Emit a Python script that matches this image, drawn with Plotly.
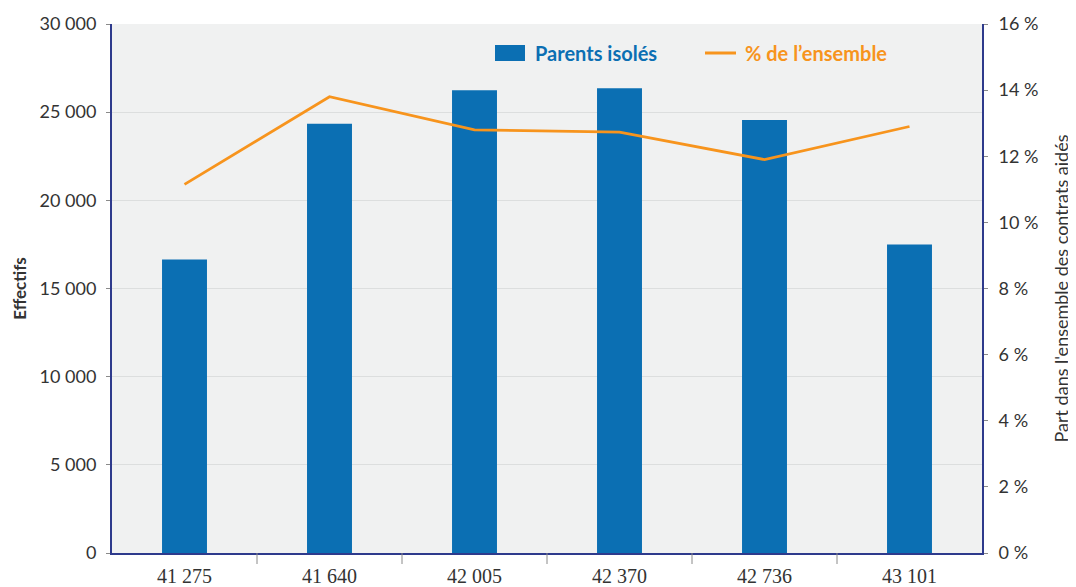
import plotly.graph_objects as go

categories = ["41 275", "41 640", "42 005", "42 370", "42 736", "43 101"]
parents_isoles = [16650, 24350, 26250, 26350, 24550, 17500]
pct_ensemble = [11.15, 13.8, 12.8, 12.73, 11.9, 12.9]

BLUE = "#0b6fb3"
ORANGE = "#f7941d"
NAVY = "#2e3a8c"
FONT = "Lato"
TXT = "#333333"

# page body has an 8px default margin: figure is sized to fit the window
W, H = 1068, 579
ML, MR, MT, MB = 104, 94, 16, 34
PW = W - ML - MR
PH = H - MT - MB


def px(xw):  # window x -> paper fraction
    return (xw - 8 - ML) / PW


def py(yw):  # window y -> paper fraction
    return (H - MB - (yw - 8)) / PH


n = len(categories)

fig = go.Figure()
fig.add_trace(go.Bar(
    x=categories, y=parents_isoles, name="Parents isolés",
    marker=dict(color=BLUE, line=dict(width=0)),
    width=0.31, showlegend=False,
))
fig.add_trace(go.Scatter(
    x=categories, y=pct_ensemble, yaxis="y2", mode="lines",
    name="% de l’ensemble", line=dict(color=ORANGE, width=2.8),
    showlegend=False,
))

# separator ticks between categories (inner boundaries only)
for i in range(1, n):
    fig.add_shape(type="line", xref="paper", yref="paper",
                  x0=i / n, x1=i / n, y0=0, y1=-11 / PH,
                  line=dict(color="#8a8a8a", width=1))

# manual legend (keys in paper coordinates)
fig.add_shape(type="rect", xref="paper", yref="paper",
              x0=px(495), x1=px(525), y0=py(61), y1=py(45),
              fillcolor=BLUE, line=dict(width=0))
fig.add_shape(type="line", xref="paper", yref="paper",
              x0=px(705), x1=px(736), y0=py(53), y1=py(53),
              line=dict(color=ORANGE, width=3))
fig.add_annotation(text="<b>Parents isolés</b>", xref="paper", yref="paper",
                   x=px(533), y=py(53), xanchor="left", yanchor="middle",
                   showarrow=False, font=dict(family=FONT, size=20, color=BLUE))
fig.add_annotation(text="<b>% de l’ensemble</b>", xref="paper", yref="paper",
                   x=px(743), y=py(53), xanchor="left", yanchor="middle",
                   showarrow=False, font=dict(family=FONT, size=20, color=ORANGE))

fig.update_layout(
    width=W, height=H,
    margin=dict(l=ML, r=MR, t=MT, b=MB),
    paper_bgcolor="white",
    plot_bgcolor="#f0f1f1",
    separators=", ",
    font=dict(family=FONT, size=18, color=TXT),
    showlegend=False,
    xaxis=dict(
        type="category", automargin=False,
        showline=True, linecolor=NAVY, linewidth=2,
        ticks="", ticklabelstandoff=4,
        tickfont=dict(family="Liberation Sans Narrow", size=20, color=TXT),
        showgrid=False,
    ),
    yaxis=dict(
        range=[0, 30000], dtick=5000, tickformat=",d", automargin=False,
        showline=True, linecolor=NAVY, linewidth=2,
        ticks="outside", ticklen=4, tickcolor="#8a8a8a",
        ticklabelstandoff=6,
        gridcolor="#dcdede", gridwidth=1, zeroline=False,
        title=dict(text="<b>Effectifs</b>", font=dict(size=17), standoff=9),
        tickfont=dict(size=18, color=TXT),
    ),
    yaxis2=dict(
        overlaying="y", side="right", automargin=False,
        range=[0, 16], dtick=2, ticksuffix=" %",
        showline=True, linecolor=NAVY, linewidth=2,
        ticks="outside", ticklen=4, tickcolor="#8a8a8a",
        ticklabelstandoff=7,
        showgrid=False, zeroline=False,
        title=dict(text="Part dans l'ensemble des contrats aidés", font=dict(size=18), standoff=18),
        tickfont=dict(size=18, color=TXT),
    ),
)

fig.write_html("out.html")
